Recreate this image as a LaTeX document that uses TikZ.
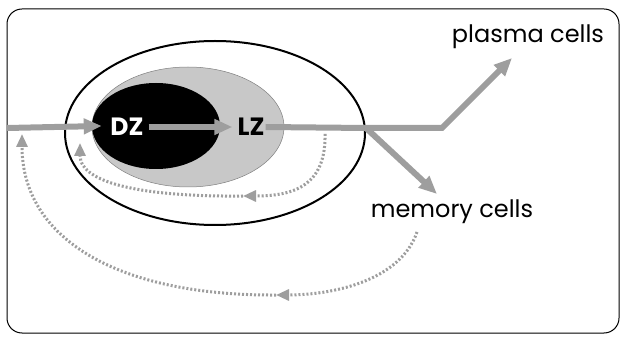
\documentclass[tikz,border=0pt]{standalone}
\usepackage{fontspec}
\setmainfont{Poppins}
\usetikzlibrary{arrows.meta,shapes.geometric}
\definecolor{flowgray}{RGB}{158,158,158}
\definecolor{zonegray}{RGB}{200,200,200}
\begin{document}
\begin{tikzpicture}[x=1pt,y=-1pt,
	flow/.style={draw=flowgray,line width=6pt,-{Triangle[length=18pt,width=15pt]}},
	recycle/.style={draw=flowgray,line width=3pt,dash pattern=on 2pt off 2pt,
		-{Triangle[length=13pt,width=11pt]}},
	zonelabel/.style={font=\fontsize{25}{28}\selectfont\bfseries,inner sep=1pt},
	celllabel/.style={font=\fontsize{24}{28}\selectfont,inner sep=1pt}]
			\useasboundingbox (0,0) rectangle (621,339);
			\draw[line width=1pt,rounded corners=15pt] (7,9) rectangle (619,333);
			
			\begin{scope}[every node/.style={ellipse,inner sep=0pt}]
			\node (GC) at (215,133) [draw,line width=2pt,fill=white,minimum width=300pt,minimum height=184pt]{};
			\node (LZzone) at (188,127) [draw=gray,line width=0.5pt,fill=zonegray,minimum width=192pt,minimum height=120pt]{};
			\node (DZzone) at (156,126) [fill=black,minimum width=128pt,minimum height=86pt]{};
			\end{scope}
			
			\node (DZ) at (127,127) [zonelabel,text=white]{DZ};
			\node (LZ) at (251,127) [zonelabel]{LZ};
			\node (plasma) at (528,37) [celllabel]{plasma cells};
			\node (memory) at (452,212) [celllabel]{memory cells};
			
			\coordinate (in) at (7,128);
			\coordinate (fork) at (366,128);
			\coordinate (bend) at (442,128);
			\coordinate (plasmatip) at (512,58);
			\coordinate (memorytip) at (437,194);
			\coordinate (innerstart) at (325,134);
			\coordinate (innermid) at (243,196);
			\coordinate (innerend) at (80,143);
			\coordinate (outerstart) at (417,232);
			\coordinate (outermid) at (276,295);
			\coordinate (outerend) at (22,134);
			
			\draw[recycle] (innerstart) .. controls (326,185) and (295,196) .. (innermid);
			\draw[recycle] (innermid) .. controls (150,197) and (80,185) .. (innerend);
			\draw[recycle] (outerstart) .. controls (400,282) and (330,295) .. (outermid);
			\draw[recycle] (outermid) .. controls (120,296) and (22,240) .. (outerend);
			
			\draw[flow] (in) -- ([xshift=10pt]DZzone.west);
			\draw[flow,shorten <=4pt,shorten >=4pt] (DZ.east) -- (LZ.west);
			\draw[flow] (LZ.east) -- (fork) -- (bend) -- (plasmatip);
			\draw[flow] (fork) -- (memorytip);
			\end{tikzpicture}
\end{document}
